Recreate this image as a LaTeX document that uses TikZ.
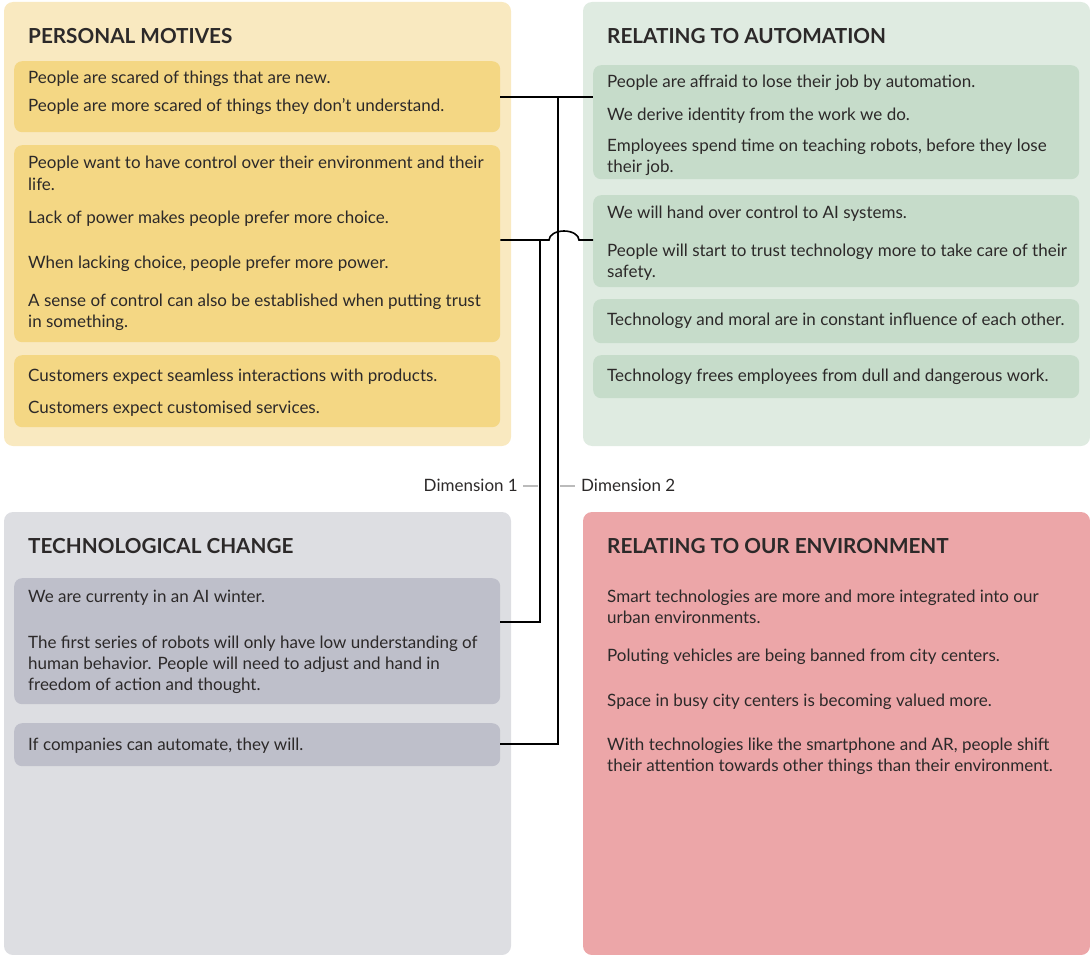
\documentclass[tikz,border=0pt]{standalone}
\usepackage{fontspec}
\setmainfont{Lato}
\definecolor{pmpanel}{HTML}{F9E9C0}
\definecolor{pmbox}{HTML}{F4D784}
\definecolor{aupanel}{HTML}{DFEBE1}
\definecolor{aubox}{HTML}{C6DCCA}
\definecolor{tcpanel}{HTML}{DDDEE2}
\definecolor{tcbox}{HTML}{BEBFCA}
\definecolor{envpanel}{HTML}{ECA6A8}
\definecolor{ink}{HTML}{2C2929}
\definecolor{tick}{HTML}{BBBBBB}
\begin{document}
\begin{tikzpicture}[x=1pt,y=-1pt,
  panel/.style={rounded corners=9pt},
  inbox/.style={rounded corners=8pt,minimum width=486pt,anchor=north west,inner sep=0pt},
  txt/.style={inner sep=0pt,anchor=base west,text=ink,font=\fontsize{17}{21}\selectfont},
  ttl/.style={inner sep=0pt,anchor=base west,text=ink,font=\fontsize{20.7}{24}\selectfont\bfseries},
  link/.style={line width=1.6pt,black},
  tickline/.style={line width=1.2pt,tick}]
\useasboundingbox (0,0) rectangle (1090,955);
% panels
\fill[panel,pmpanel] (4,2) rectangle (511,446);
\fill[panel,aupanel] (583,2) rectangle (1090,446);
\fill[panel,tcpanel] (4,512) rectangle (511,955);
\fill[panel,envpanel] (583,512) rectangle (1090,955);
% inner boxes
\node[inbox,fill=pmbox,minimum height=71pt] (pm1) at (14,61) {};
\node[inbox,fill=pmbox,minimum height=197pt] (pm2) at (14,145) {};
\node[inbox,fill=pmbox,minimum height=72pt] (pm3) at (14,355) {};
\node[inbox,fill=aubox,minimum height=114pt] (au1) at (593,65) {};
\node[inbox,fill=aubox,minimum height=92pt] (au2) at (593,195) {};
\node[inbox,fill=aubox,minimum height=44pt] (au3) at (593,299) {};
\node[inbox,fill=aubox,minimum height=43pt] (au4) at (593,355) {};
\node[inbox,fill=tcbox,minimum height=126pt] (tc1) at (14,578) {};
\node[inbox,fill=tcbox,minimum height=43pt] (tc2) at (14,723) {};
% titles
\node[ttl] (tpm) at (28,44) {PERSONAL MOTIVES};
\node[ttl] (tau) at (607,44) {RELATING TO AUTOMATION};
\node[ttl] (ttc) at (28,553) {TECHNOLOGICAL CHANGE};
\node[ttl] (ten) at (607,553) {RELATING TO OUR ENVIRONMENT};
% texts
\foreach \y/\t [count=\i] in {
  84/{People are scared of things that are new.},
  112/{People are more scared of things they don’t understand.},
  168/{People want to have control over their environment and their},
  190/{life.},
  223/{Lack of power makes people prefer more choice.},
  268/{When lacking choice, people prefer more power.},
  306/{A sense of control can also be established when putting trust},
  327/{in something.},
  381/{Customers expect seamless interactions with products.},
  413/{Customers expect customised services.}}
  \node[txt] (pmt\i) at (28,\y) {\t};
\foreach \y/\t [count=\i] in {
  88/{People are affraid to lose their job by automation.},
  121/{We derive identity from the work we do.},
  152/{Employees spend time on teaching robots, before they lose},
  172/{their job.},
  218/{We will hand over control to AI systems.},
  256/{People will start to trust technology more to take care of their},
  277/{safety.},
  325/{Technology and moral are in constant influence of each other.},
  381/{Technology frees employees from dull and dangerous work.}}
  \node[txt] (aut\i) at (607,\y) {\t};
\foreach \y/\t [count=\i] in {
  602/{We are currenty in an AI winter.},
  648/{The first series of robots will only have low understanding of},
  669/{human behavior. People will need to adjust and hand in},
  690/{freedom of action and thought.},
  750/{If companies can automate, they will.}}
  \node[txt] (tct\i) at (28,\y) {\t};
\foreach \y/\t [count=\i] in {
  602/{Smart technologies are more and more integrated into our},
  623/{urban environments.},
  661/{Poluting vehicles are being banned from city centers.},
  706/{Space in busy city centers is becoming valued more.},
  750/{With technologies like the smartphone and AR, people shift},
  771/{their attention towards other things than their environment.}}
  \node[txt] (ent\i) at (607,\y) {\t};
% dimension labels
\node[txt,anchor=base east] (d1) at (518,491) {Dimension 1};
\node[txt] (d2) at (581,491) {Dimension 2};
% connectors
\coordinate (j1) at (558,97);
\coordinate (j2) at (540,240);
\draw[link] (pm1.east |- j1) -- (au1.west |- j1);
\draw[link] (j1) -- (558,744) -- (tc2.east |- 0,744);
\draw[link] (pm2.east |- j2) -- (549,240) arc[start angle=180,end angle=360,x radius=15,y radius=9] -- (au2.west |- j2);
\draw[link] (j2) -- (540,622) -- (tc1.east |- 0,622);
\draw[tickline] (523,486) -- (538,486);
\draw[tickline] (560,486) -- (575,486);
\end{tikzpicture}
\end{document}
